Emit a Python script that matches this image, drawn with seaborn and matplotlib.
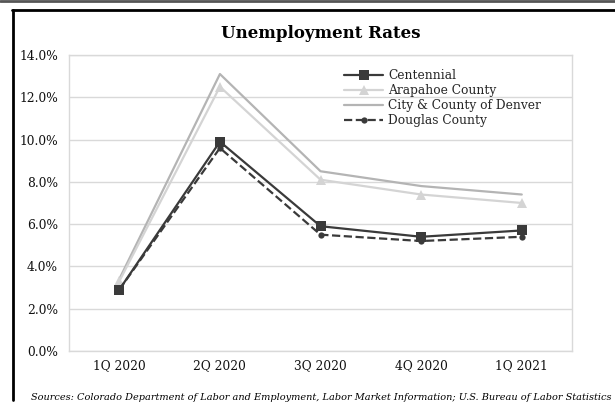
import matplotlib
matplotlib.use('Agg')
import matplotlib.pyplot as plt
import numpy as np
import pandas as pd
import seaborn as sns
from matplotlib.lines import Line2D
from matplotlib.ticker import PercentFormatter

quarters = ['1Q 2020', '2Q 2020', '3Q 2020', '4Q 2020', '1Q 2021']
centennial = [2.9, 9.9, 5.9, 5.4, 5.7]
arapahoe = [3.3, 12.5, 8.1, 7.4, 7.0]
denver = [3.4, 13.1, 8.5, 7.8, 7.4]
douglas = [2.9, 9.6, 5.5, 5.2, 5.4]
series_names = ['Centennial', 'Arapahoe County', 'City & County of Denver', 'Douglas County']

sns.set_theme(style='white')
plt.rcParams['font.family'] = ['DejaVu Serif']

df = pd.DataFrame({'Quarter': quarters * 4,
                   'Rate': centennial + arapahoe + denver + douglas,
                   'Series': np.repeat(series_names, len(quarters))})

fig = plt.figure(figsize=(6.15, 4.09), dpi=100)
ax = fig.add_axes([0.1122, 0.142, 0.818, 0.7235])

# draw in this order so the dark lines sit on top
styles = {
    'City & County of Denver': dict(color='#b4b4b4', marker=None, ls='-', ms=0, lw=1.6),
    'Arapahoe County': dict(color='#d4d4d4', marker='^', ls='-', ms=7, lw=1.6),
    'Centennial': dict(color='#3a3a3a', marker='s', ls='-', ms=7, lw=1.6),
    'Douglas County': dict(color='#3a3a3a', marker='o', ls='--', ms=4.5, lw=1.6),
}
for name, st in styles.items():
    sub = df[df['Series'] == name]
    sns.lineplot(data=sub, x='Quarter', y='Rate', ax=ax, color=st['color'],
                 marker=st['marker'], markersize=st['ms'], linestyle=st['ls'],
                 linewidth=st['lw'], markeredgewidth=0, sort=False, legend=False)

ax.set_xlim(-0.5, 4.5)
ax.set_ylim(0, 14)
ax.set_yticks(np.arange(0, 15, 2))
ax.yaxis.set_major_formatter(PercentFormatter(decimals=1))
ax.grid(axis='y', color='#d9d9d9', linewidth=1)
ax.set_axisbelow(True)
for s in ax.spines.values():
    s.set_color('#d9d9d9')
    s.set_linewidth(1)
ax.set_xlabel('')
ax.set_ylabel('')
ax.tick_params(axis='both', length=0, labelsize=8.8, colors='#111111')
ax.tick_params(axis='x', pad=6)
ax.tick_params(axis='y', pad=8)

handles = []
for name in series_names:
    st = styles[name]
    handles.append(Line2D([], [], color=st['color'], marker=st['marker'], markersize=st['ms'],
                          linestyle=st['ls'], linewidth=st['lw'], markeredgewidth=0))
ax.legend(handles, series_names, loc='upper left', bbox_to_anchor=(0.53, 0.98), frameon=False,
          fontsize=8.8, handlelength=3.2, handletextpad=0.4, labelspacing=0.15,
          borderpad=0.2)

fig.text(0.522, 0.918, 'Unemployment Rates', ha='center', va='center',
         fontsize=12, fontweight='bold', color='black')
fig.text(0.995, 0.027, 'Sources: Colorado Department of Labor and Employment, Labor Market Information; U.S. Bureau of Labor Statistics',
         ha='right', va='center', fontsize=7.0, style='italic', color='black')

# outer frame
fig.add_artist(Line2D([0, 1], [0.997, 0.997], transform=fig.transFigure, color='#555555', lw=2))
fig.add_artist(Line2D([0.019, 1], [0.975, 0.975], transform=fig.transFigure, color='black', lw=2))
fig.add_artist(Line2D([0.021, 0.021], [0.022, 0.975], transform=fig.transFigure, color='black', lw=2))

fig.savefig('out.png', dpi=100)
